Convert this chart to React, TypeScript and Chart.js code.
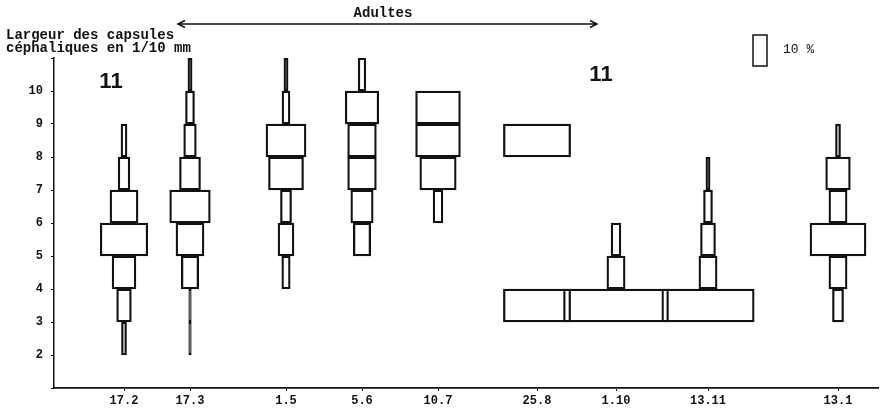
import React, { useEffect, useRef } from 'react';
import { Chart, registerables } from 'chart.js';

Chart.register(...registerables);

// Sampling dates (x tick labels) and their positions along the time axis
const sampleDates = ['17.2', '17.3', '1.5', '5.6', '10.7', '25.8', '1.10', '13.11', '13.1'];
const samplePositions = [70, 136, 232, 308, 384, 483, 562, 654, 784];

// Head-capsule width classes (lower bound, in 1/10 mm): 2-3, 3-4, ... 10-11
const sizeClassLower = [2, 3, 4, 5, 6, 7, 8, 9, 10];
const yTickLabels = [2, 3, 4, 5, 6, 7, 8, 9, 10];

// Percentage of individuals in each class, per sampling date
const pct_17_2 = [3.6, 10.5, 17, 34, 20, 8.4, 4.3, 0, 0];
const pct_17_3 = [1.8, 1.8, 12.4, 20, 29, 15, 9, 6.4, 3];
const pct_1_5 = [0, 0, 6, 11.4, 7.9, 25, 28.6, 5.7, 3];
const pct_5_6 = [0, 0, 0, 12.4, 16, 20.5, 20.5, 24, 5.5];
const pct_10_7 = [0, 0, 0, 0, 7, 26, 32, 32, 0];
const pct_25_8 = [0, 48, 0, 0, 0, 0, 48, 0, 0];
const pct_1_10 = [0, 75, 13, 7, 0, 0, 0, 0, 0];
const pct_13_11 = [0, 66, 13, 10.7, 6.4, 3, 0, 0, 0];
const pct_13_1 = [0, 7.9, 13, 40, 13, 17.6, 3.6, 0, 0];

const allPercents = [pct_17_2, pct_17_3, pct_1_5, pct_5_6, pct_10_7, pct_25_8, pct_1_10, pct_13_11, pct_13_1];

// x-axis units per 1 % of kite width
const PERCENT_TO_X = 1.4;
const LEGEND_PERCENT = 10;

const INK = '#111';

function buildDatasets() {
  return allPercents.map((pcts, i) => {
    const pos = samplePositions[i];
    const data = sizeClassLower
      .map((c, j) => {
        const p = pcts[j];
        if (!p) return null;
        const half = (p * PERCENT_TO_X) / 2;
        return { y: c + 0.5, x: [pos - half, pos + half] };
      })
      .filter(Boolean);
    return {
      label: sampleDates[i],
      data,
      backgroundColor: 'rgba(255,255,255,0)',
      borderColor: INK,
      borderWidth: 1.6,
      borderSkipped: false,
      grouped: false,
      barPercentage: 1,
      categoryPercentage: 1,
    };
  });
}

const annotations = {
  id: 'annotations',
  afterDraw(chart: any) {
    const ctx = chart.ctx;
    const xs = chart.scales.x;
    const ys = chart.scales.y;
    ctx.save();
    ctx.fillStyle = INK;
    ctx.strokeStyle = INK;

    // Axis title
    ctx.font = 'bold 14px "Liberation Mono"';
    ctx.textAlign = 'left';
    ctx.textBaseline = 'alphabetic';
    ctx.fillText('Largeur des capsules', 6, 39);
    ctx.fillText('céphaliques en 1/10 mm', 6, 52);

    // Adultes arrow
    ctx.textAlign = 'center';
    ctx.fillText('Adultes', 383, 17);
    ctx.lineWidth = 1.5;
    ctx.beginPath();
    ctx.moveTo(178, 24);
    ctx.lineTo(597, 24);
    ctx.moveTo(185, 20.5);
    ctx.lineTo(178, 24);
    ctx.lineTo(185, 27.5);
    ctx.moveTo(590, 20.5);
    ctx.lineTo(597, 24);
    ctx.lineTo(590, 27.5);
    ctx.stroke();

    // "11" markers
    ctx.font = 'bold 22px "Liberation Sans"';
    ctx.textBaseline = 'middle';
    ctx.fillText('11', 111, 82);
    ctx.fillText('11', 601, 75);

    // Legend: 10 % width key
    const x0 = xs.getPixelForValue(0);
    const w = xs.getPixelForValue(LEGEND_PERCENT * PERCENT_TO_X) - x0;
    const h = ys.getPixelForValue(1) - ys.getPixelForValue(2);
    const cx = 760;
    ctx.lineWidth = 1.5;
    ctx.strokeRect(cx - w / 2, 35, w, h - 2);
    ctx.font = '13px "Liberation Mono"';
    ctx.textAlign = 'left';
    ctx.fillText('10 %', 783, 50);
    ctx.restore();
  },
};

export default function App() {
  const ref = useRef<HTMLCanvasElement | null>(null);

  useEffect(() => {
    document.body.style.margin = '0';
    const canvas = ref.current;
    if (!canvas) return;
    const chart = new Chart(canvas, {
      type: 'bar',
      data: { datasets: buildDatasets() as any },
      options: {
        indexAxis: 'y',
        animation: false,
        responsive: false,
        events: [],
        layout: { padding: { top: 58, right: 2, left: 0, bottom: 0 } },
        plugins: { legend: { display: false }, tooltip: { enabled: false } },
        scales: {
          x: {
            type: 'linear',
            position: 'bottom',
            min: 0,
            max: 824,
            offset: false,
            grid: { display: true, drawOnChartArea: false, drawTicks: true, tickLength: 3, color: INK, offset: false },
            border: { display: true, color: INK, width: 1.8 },
            afterBuildTicks: (s: any) => {
              s.ticks = samplePositions.map((v) => ({ value: v }));
            },
            afterFit: (s: any) => {
              s.height = 29;
            },
            ticks: {
              autoSkip: false,
              maxRotation: 0,
              padding: 3,
              color: INK,
              font: { family: '"Liberation Mono"', size: 12, weight: 'bold' },
              callback: (_v: any, i: number) => sampleDates[i],
            },
          },
          y: {
            type: 'linear',
            min: 1,
            max: 11,
            offset: false,
            grid: { display: true, drawOnChartArea: false, drawTicks: true, tickLength: 3, color: INK, offset: false },
            border: { display: true, color: INK, width: 1.5 },
            afterFit: (s: any) => {
              s.width = 54;
            },
            ticks: {
              stepSize: 1,
              padding: 8,
              color: INK,
              font: { family: '"Liberation Mono"', size: 12, weight: 'bold' },
              callback: (v: any) => (yTickLabels.includes(Number(v)) ? String(v) : ''),
            },
          },
        },
      },
      plugins: [annotations],
    });
    return () => chart.destroy();
  }, []);

  return <canvas ref={ref} width={880} height={417} style={{ display: 'block', width: 880, height: 417 }} />;
}
